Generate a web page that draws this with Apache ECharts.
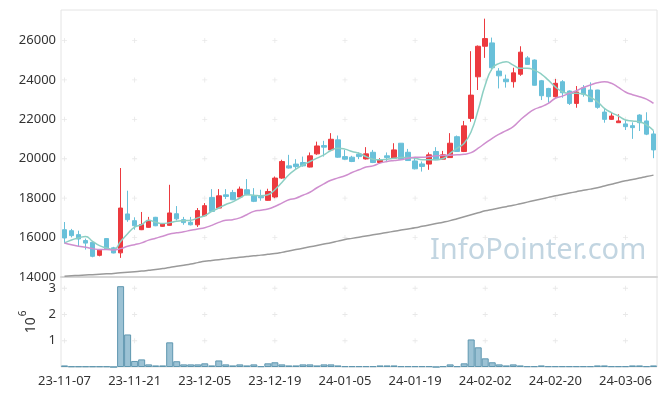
<!DOCTYPE html>
<html><head><meta charset="utf-8">
<script src="https://cdn.jsdelivr.net/npm/echarts@6/dist/echarts.min.js"></script>
<style>html,body{margin:0;padding:0;background:#fff}#c{width:665px;height:396px}</style>
</head><body><div id="c"></div>
<script>
const dates = ['23-11-07','23-11-08','23-11-09','23-11-10','23-11-13','23-11-14','23-11-15','23-11-16','23-11-17','23-11-20',
'23-11-21','23-11-22','23-11-23','23-11-24','23-11-27','23-11-28','23-11-29','23-11-30','23-12-01','23-12-04',
'23-12-05','23-12-06','23-12-07','23-12-08','23-12-11','23-12-12','23-12-13','23-12-14','23-12-15','23-12-18',
'23-12-19','23-12-20','23-12-21','23-12-22','23-12-26','23-12-27','23-12-28','24-01-02','24-01-03','24-01-04',
'24-01-05','24-01-08','24-01-09','24-01-10','24-01-11','24-01-12','24-01-15','24-01-16','24-01-17','24-01-18',
'24-01-19','24-01-22','24-01-23','24-01-24','24-01-25','24-01-26','24-01-29','24-01-30','24-01-31','24-02-01',
'24-02-02','24-02-05','24-02-06','24-02-07','24-02-08','24-02-13','24-02-14','24-02-15','24-02-16','24-02-19',
'24-02-20','24-02-21','24-02-22','24-02-23','24-02-26','24-02-27','24-02-28','24-02-29','24-03-04','24-03-05',
'24-03-06','24-03-07','24-03-08','24-03-11','24-03-12'];

const opens = [16400,16350,16150,15850,15760,15100,15950,15480,15225,17200,
16860,16400,16520,17030,16570,16620,17210,16910,16780,16650,
17110,18040,17500,18170,18290,18060,18430,18120,18090,17890,
18060,19020,19640,19730,19810,19580,20250,20670,20450,20960,
20110,20080,20230,19990,20330,19810,20150,20030,20790,20330,
19890,19740,19730,20370,19980,20060,21120,20370,22050,24160,
25710,25880,24450,24040,23910,24290,25120,25010,23960,23570,
23150,23910,23440,22810,23600,23490,23490,22370,22000,21830,
21770,21680,22220,21920,21260];
const closes = [15980,16100,15930,15720,15050,15360,15430,15220,17500,16910,
16600,16660,16870,16600,16690,17250,16950,16760,16650,17370,
17620,17330,18120,18090,17920,18460,18180,17840,18020,18340,
19020,19860,19530,19600,19640,20150,20650,20590,20990,20080,
19980,19860,20110,20250,19810,19950,20060,20450,19980,19910,
19490,19610,20200,19950,20200,20790,20370,21670,23230,25710,
26100,24620,24210,23910,24360,25410,24790,23730,23200,23150,
23830,23350,22810,23390,23280,22900,22610,22000,22170,21920,
21630,21580,21830,21250,20450];
const lows = [15700,16010,15530,15390,15000,15050,15400,15200,14970,16800,
16400,16380,16500,16580,16550,16600,16870,16650,16620,16540,
17080,17300,17480,17960,17900,18040,18150,17800,17870,17870,
18000,18980,19500,19480,19600,19560,20200,20110,20400,20050,
19950,19830,19980,19960,19780,19740,19860,20000,19960,19890,
19460,19350,19440,19930,19960,20040,20350,20340,21880,23490,
25120,24460,23570,23610,23610,24210,24770,23720,22980,22850,
23100,23100,22730,22590,23150,22880,22540,21830,21970,21830,
21460,21010,21410,21200,20030];
const highs = [16790,16440,16350,15950,15800,15380,15980,15530,19530,18380,
17030,17300,17050,17050,16720,18680,17600,17050,17050,17500,
17750,18460,18460,18460,18420,18590,18970,18510,18430,18480,
19100,19950,20200,19980,20110,20320,20870,20910,21300,21180,
20450,20150,20330,20590,20450,20030,20320,20790,20800,20500,
20080,19860,20320,20590,20400,21300,21180,21920,25460,25750,
27110,26150,24600,24270,24620,25710,25210,25040,24000,23600,
24050,23990,23470,23690,23740,23880,23500,22530,22340,22260,
21970,21850,22260,22360,21430];

// volume in units of 10^6
const volumes = [0.06,0.025,0.025,0.025,0.025,0.025,0.025,0,3.08,1.24,
0.23,0.29,0.10,0.06,0.06,0.94,0.22,0.10,0.10,0.10,
0.14,0.06,0.25,0.10,0.06,0.10,0.06,0.10,0.03,0.14,
0.18,0.10,0.06,0.06,0.10,0.10,0.06,0.10,0.10,0.06,
0.03,0.03,0.03,0.03,0.03,0.06,0.06,0.06,0.03,0.03,
0.03,0.03,0.03,0,0.03,0.10,0.03,0.14,1.05,0.75,
0.33,0.18,0.10,0.06,0.10,0.06,0.03,0.03,0.06,0.03,
0.03,0.03,0.03,0.03,0.03,0.03,0.06,0.06,0.03,0.03,
0.03,0.06,0.06,0.03,0.06];

const ma5 = [15730,15880,15980,16060,15810,15590,15470,15390,15800,16200,
16530,16660,16880,16780,16710,16760,16830,16860,16880,17000,
17110,17330,17500,17680,17810,18010,18170,18150,18120,18170,
18430,18800,19190,19470,19690,19860,20030,20200,20420,20540,
20490,20370,20280,20110,19980,19950,19980,20030,20060,20060,
20030,19950,19950,19950,20010,20280,20540,20790,21380,22480,
23740,24590,24840,24920,24750,24590,24590,24500,24300,23990,
23650,23400,23320,23320,23290,23120,22900,22560,22340,22170,
21970,21920,21880,21720,21430];
const ma20 = [15730,15640,15560,15510,15440,15390,15390,15370,15440,15560,
15640,15730,15870,15970,16070,16180,16240,16300,16370,16440,
16500,16620,16770,16880,16910,17000,17160,17330,17390,17450,
17580,17750,17920,18000,18150,18300,18530,18730,18910,19030,
19140,19300,19440,19580,19640,19780,19860,19910,19950,20030,
20080,20080,20110,20150,20170,20180,20200,20230,20310,20540,
20790,21040,21250,21430,21630,21970,22270,22510,22640,22810,
23070,23180,23320,23450,23620,23740,23860,23910,23830,23620,
23390,23250,23150,23030,22810];
const maLong = [14040,14060,14080,14100,14120,14140,14160,14180,14210,14240,
14270,14300,14340,14380,14430,14480,14540,14600,14660,14730,
14800,14840,14880,14920,14960,15000,15040,15080,15110,15150,
15190,15250,15320,15390,15460,15530,15600,15670,15740,15820,
15900,15960,16020,16080,16140,16200,16260,16320,16380,16440,
16500,16570,16640,16710,16780,16860,16960,17060,17160,17260,
17360,17430,17500,17570,17640,17720,17800,17880,17960,18040,
18120,18190,18260,18330,18400,18460,18530,18620,18710,18800,
18880,18950,19020,19100,19170];

const priceTicks = [14000,16000,18000,20000,22000,24000,26000];
const volTicks = [1,2,3];
const labelEvery = 10;

const candleData = dates.map((d,i)=>[opens[i],closes[i],lows[i],highs[i]]);
const labelCats = dates.filter((d,i)=>i%labelEvery===0);
const crossPrice = [], crossVol = [];
labelCats.forEach(c=>{
  priceTicks.forEach(v=>{ if (v>priceTicks[0]) crossPrice.push([c,v]); });
  volTicks.forEach(v=>crossVol.push([c,v]));
});
const plus = 'path://M0,2.5H6V3.5H0Z M2.5,0H3.5V6H2.5Z';
const RED = '#ec3a3f', BLUE = '#69c0d9';

const chart = echarts.init(document.getElementById('c'), null, {renderer:'canvas'});
chart.setOption({
  animation:false,
  backgroundColor:'#fff',
  textStyle:{fontFamily:'Noto Sans'},
  graphic:[{type:'text', left:430, top:236, z:0, silent:true,
    style:{text:'InfoPointer.com', font:'29px "Noto Sans"', fill:'#c2d5e1'}}],
  grid:[
    {left:61,right:8,top:10,height:267,show:true,borderColor:'#e4e4e4',borderWidth:1},
    {left:61,right:8,top:277,height:90,show:true,borderColor:'#e4e4e4',borderWidth:1}
  ],
  xAxis:[
    {type:'category',data:dates,gridIndex:0,boundaryGap:true,
     axisLine:{show:true,lineStyle:{color:'#d6d6d6',width:2}},axisTick:{show:false},
     axisLabel:{show:false},splitLine:{show:false}},
    {type:'category',data:dates,gridIndex:1,boundaryGap:true,
     axisLine:{show:false},axisTick:{show:false},
     axisLabel:{interval:labelEvery-1,color:'#333',fontSize:13,margin:8,fontFamily:'Noto Sans'},
     splitLine:{show:false}}
  ],
  yAxis:[
    {type:'value',gridIndex:0,min:14000,max:27550,interval:2000,
     axisLine:{show:false},axisTick:{show:false},splitLine:{show:false},
     axisLabel:{color:'#333',fontSize:13,margin:5,fontFamily:'Noto Sans',
       formatter:v=>priceTicks.includes(v)?String(v):''}},
    {type:'value',gridIndex:1,min:0,max:3.43,interval:1,
     axisLine:{show:false},axisTick:{show:false},splitLine:{show:false},
     axisLabel:{color:'#333',fontSize:13,margin:5,fontFamily:'Noto Sans',
       formatter:v=>volTicks.includes(v)?String(v):''},
     name:'{b|10}{s|6}',nameLocation:'middle',nameRotate:90,nameGap:22,
     nameTextStyle:{rich:{b:{fontSize:14,color:'#333',fontFamily:'Noto Sans',lineHeight:20,verticalAlign:'bottom'},
                          s:{fontSize:10,color:'#333',fontFamily:'Noto Sans',lineHeight:20,verticalAlign:'top',padding:[0,0,0,1]}}}}
  ],
  series:[
    {type:'scatter',xAxisIndex:0,yAxisIndex:0,data:crossPrice,symbol:plus,symbolSize:5,
     itemStyle:{color:'#e2e2e2'},silent:true,z:1},
    {type:'scatter',xAxisIndex:1,yAxisIndex:1,data:crossVol,symbol:plus,symbolSize:5,
     itemStyle:{color:'#e2e2e2'},silent:true,z:1},
    {type:'candlestick',xAxisIndex:0,yAxisIndex:0,data:candleData,barWidth:5,z:3,
     itemStyle:{color:RED,color0:BLUE,borderColor:RED,borderColor0:BLUE,borderWidth:1}},
    {type:'line',xAxisIndex:0,yAxisIndex:0,data:ma5,smooth:true,symbol:'none',z:4,
     lineStyle:{color:'#8ccfc3',width:1.5}},
    {type:'line',xAxisIndex:0,yAxisIndex:0,data:ma20,smooth:true,symbol:'none',z:4,
     lineStyle:{color:'#cf8fcf',width:1.5}},
    {type:'line',xAxisIndex:0,yAxisIndex:0,data:maLong,smooth:true,symbol:'none',z:4,
     lineStyle:{color:'#9a9a9a',width:1.5}},
    {type:'bar',xAxisIndex:1,yAxisIndex:1,data:volumes,barWidth:'100%',z:3,
     itemStyle:{color:'#9cc2d4',borderColor:'#5f97b0',borderWidth:1}}
  ]
});
</script></body></html>
